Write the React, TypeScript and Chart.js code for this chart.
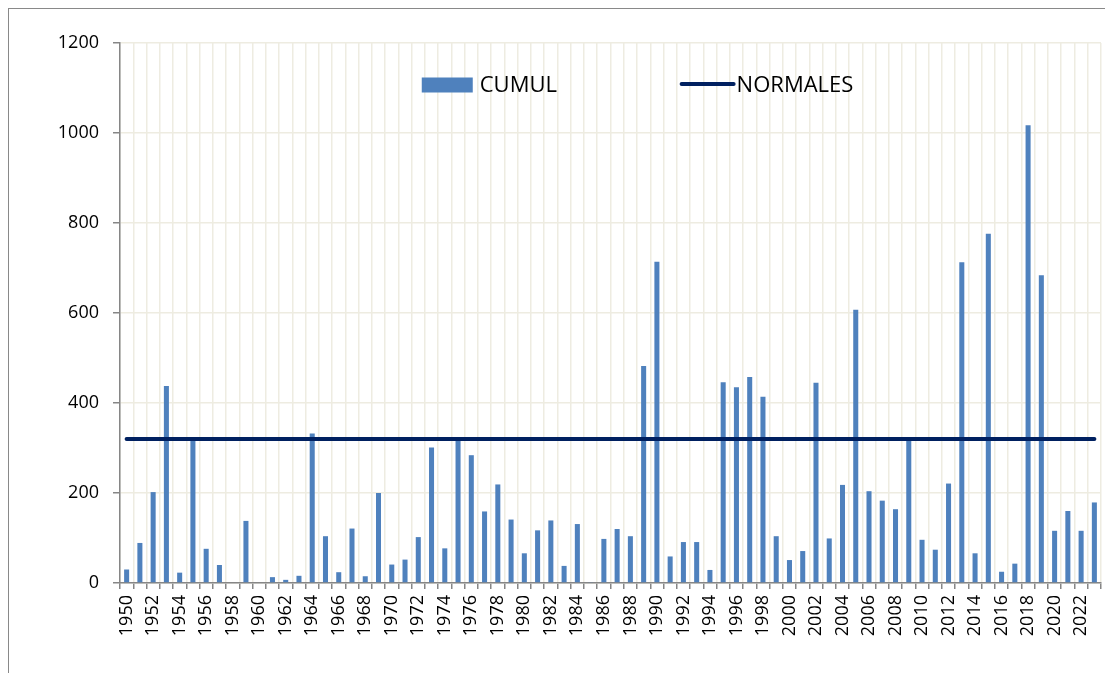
import React, { useEffect, useRef } from "react";
import { Chart, registerables } from "chart.js";

Chart.register(...registerables);

const YEARS: string[] = [
  "1950","1951","1952","1953","1954","1955","1956","1957","1958","1959",
  "1960","1961","1962","1963","1964","1965","1966","1967","1968","1969",
  "1970","1971","1972","1973","1974","1975","1976","1977","1978","1979",
  "1980","1981","1982","1983","1984","1985","1986","1987","1988","1989",
  "1990","1991","1992","1993","1994","1995","1996","1997","1998","1999",
  "2000","2001","2002","2003","2004","2005","2006","2007","2008","2009",
  "2010","2011","2012","2013","2014","2015","2016","2017","2018","2019",
  "2020","2021","2022","2023",
];

const CUMUL: number[] = [
  30, 89, 202, 438, 23, 316, 76, 40, 0, 138,
  0, 13, 7, 16, 332, 104, 24, 121, 15, 200,
  41, 52, 102, 301, 77, 318, 284, 159, 219, 141,
  66, 117, 139, 38, 131, 2, 98, 120, 104, 482,
  714, 59, 91, 91, 29, 446, 435, 458, 414, 104,
  51, 71, 445, 99, 218, 607, 204, 183, 164, 316,
  96, 74, 221, 713, 66, 776, 25, 43, 1017, 684,
  116, 160, 116, 179,
];

const NORMALE_VALUE = 320;
const NORMALES: number[] = YEARS.map(() => NORMALE_VALUE);

const SERIES_NAMES: string[] = ["CUMUL", "NORMALES"];
const Y_MIN = 0;
const Y_MAX = 1200;
const Y_STEP = 200;

const BAR_COLOR = "#4F81BD";
const LINE_COLOR = "#002060";
const GRID_COLOR = "#EEECE1";
const AXIS_COLOR = "#868686";
const FONT_FAMILY = '"Open Sans", "Liberation Sans", sans-serif';

const legendPlugin = {
  id: "insideLegend",
  afterDraw(chart: any) {
    const { ctx, chartArea: a } = chart;
    const w = a.right - a.left;
    const y = a.top + 42;
    ctx.save();
    ctx.font = `22px ${FONT_FAMILY}`;
    ctx.textBaseline = "middle";
    ctx.textAlign = "left";
    const bx = a.left + w * 0.3076;
    ctx.fillStyle = BAR_COLOR;
    ctx.fillRect(bx, y - 7.5, 51, 15);
    ctx.fillStyle = "#000";
    ctx.fillText(SERIES_NAMES[0], bx + 58, y + 1);
    const lx = a.left + w * 0.5725;
    ctx.strokeStyle = LINE_COLOR;
    ctx.lineWidth = 4;
    ctx.lineCap = "round";
    ctx.beginPath();
    ctx.moveTo(lx, y - 1);
    ctx.lineTo(lx + 52, y - 1);
    ctx.stroke();
    ctx.fillStyle = "#000";
    ctx.fillText(SERIES_NAMES[1], lx + 55, y + 1);
    ctx.restore();
  },
};

export default function App() {
  const canvasRef = useRef<HTMLCanvasElement | null>(null);

  useEffect(() => {
    if (!canvasRef.current) return;
    const chart = new Chart(canvasRef.current, {
      type: "bar",
      data: {
        labels: YEARS,
        datasets: [
          {
            type: "line",
            label: SERIES_NAMES[1],
            data: NORMALES,
            borderColor: LINE_COLOR,
            backgroundColor: LINE_COLOR,
            borderWidth: 4,
            borderCapStyle: "round",
            pointRadius: 0,
            pointHoverRadius: 0,
            fill: false,
            order: 0,
          } as any,
          {
            type: "bar",
            label: SERIES_NAMES[0],
            data: CUMUL,
            backgroundColor: BAR_COLOR,
            borderWidth: 0,
            barPercentage: 0.38,
            categoryPercentage: 1,
            order: 1,
          },
        ],
      },
      options: {
        responsive: false,
        animation: false,
        devicePixelRatio: 1,
        layout: { padding: { left: 31, top: 34, right: 4, bottom: 0 } },
        plugins: {
          legend: { display: false },
          tooltip: { enabled: false },
        },
        scales: {
          x: {
            offset: true,
            grid: {
              offset: true,
              color: GRID_COLOR,
              lineWidth: 1.5,
              tickColor: AXIS_COLOR,
              tickLength: 6,
              drawTicks: true,
            },
            border: { color: AXIS_COLOR, width: 1.5 },
            ticks: {
              autoSkip: false,
              minRotation: 90,
              maxRotation: 90,
              padding: 6,
              color: "#000",
              font: { family: FONT_FAMILY, size: 18 },
              callback: (_v: any, i: number) => (i % 2 === 0 ? YEARS[i] : ""),
            },
            afterFit: (scale: any) => {
              scale.height = 90;
              scale.paddingLeft = 0;
              scale.paddingRight = 0;
            },
          },
          y: {
            min: Y_MIN,
            max: Y_MAX,
            grid: {
              color: GRID_COLOR,
              lineWidth: 1.5,
              tickColor: AXIS_COLOR,
              tickLength: 7,
            },
            border: { color: AXIS_COLOR, width: 1.5 },
            ticks: {
              stepSize: Y_STEP,
              padding: 14,
              color: "#000",
              font: { family: FONT_FAMILY, size: 18 },
              callback: (v: any) => String(v),
            },
            afterFit: (scale: any) => {
              scale.width = 80;
            },
          },
        },
      },
      plugins: [legendPlugin],
    });
    return () => chart.destroy();
  }, []);

  return (
    <div
      style={{
        width: 1097,
        height: 665,
        boxSizing: "border-box",
        borderLeft: "1px solid #898989",
        borderTop: "1px solid #898989",
        background: "#fff",
      }}
    >
      <canvas ref={canvasRef} width={1096} height={664} style={{ display: "block" }} />
    </div>
  );
}
